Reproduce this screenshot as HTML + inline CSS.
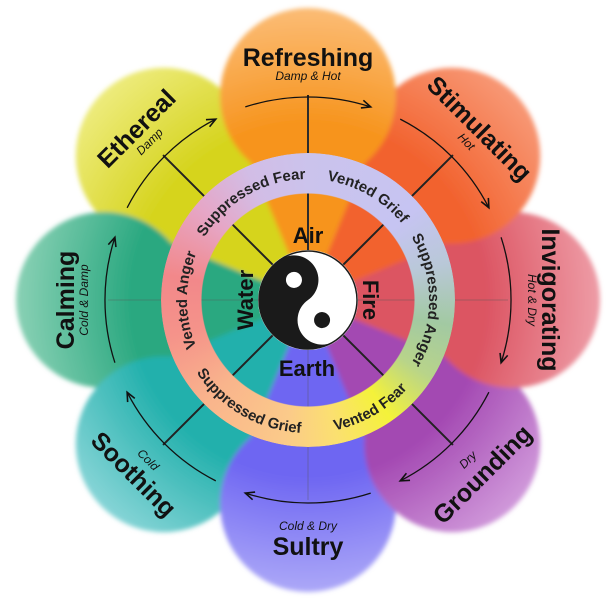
<!DOCTYPE html>
<html><head><meta charset="utf-8"><style>
html,body{margin:0;padding:0;background:#fff;}
#w{position:relative;width:616px;height:600px;overflow:hidden;background:#fff;}
svg{position:absolute;left:0;top:0;}
#ring{position:absolute;left:161px;top:153px;width:294px;height:294px;border-radius:50%;
background:conic-gradient(from 0deg,#cbc3ec 0deg,#c6c4f2 50deg,#b9c8d8 75deg,#a2c9a2 100deg,#b8d48a 122deg,#f4f23a 145deg,#fbe070 168deg,#fbca8a 190deg,#f9b48c 225deg,#f5938a 255deg,#f2888a 280deg,#e6a6c6 310deg,#d2bde6 335deg,#cbc3ec 360deg);
-webkit-mask:radial-gradient(circle,transparent 106px,#000 107px);mask:radial-gradient(circle,transparent 106px,#000 107px);}
.n{font-family:"Liberation Sans Narrow","Liberation Sans",sans-serif;font-weight:bold;font-size:25px;fill:#111;text-anchor:middle;}
.s{font-family:"Liberation Sans Narrow","Liberation Sans",sans-serif;font-style:italic;font-size:12px;fill:#111;text-anchor:middle;}
.r{font-family:"Liberation Sans Narrow","Liberation Sans",sans-serif;font-weight:bold;font-size:15px;fill:#222;}
.e{font-family:"Liberation Sans Narrow","Liberation Sans",sans-serif;font-weight:bold;font-size:22px;fill:#111;text-anchor:middle;}
</style></head><body><div id="w">
<svg width="616" height="600" viewBox="0 0 616 600">
<defs>
<filter id="bl" x="-20%" y="-20%" width="140%" height="140%"><feGaussianBlur stdDeviation="2.5"/></filter>
<radialGradient id="g0" gradientUnits="userSpaceOnUse" cx="308" cy="300" r="295"><stop offset="0.6" stop-color="#f7941d"/><stop offset="1" stop-color="#fbbd78"/></radialGradient>
<radialGradient id="g1" gradientUnits="userSpaceOnUse" cx="308" cy="300" r="295"><stop offset="0.6" stop-color="#f2622e"/><stop offset="1" stop-color="#f89a78"/></radialGradient>
<radialGradient id="g2" gradientUnits="userSpaceOnUse" cx="308" cy="300" r="295"><stop offset="0.6" stop-color="#dc5462"/><stop offset="1" stop-color="#ee9ea8"/></radialGradient>
<radialGradient id="g3" gradientUnits="userSpaceOnUse" cx="308" cy="300" r="295"><stop offset="0.6" stop-color="#a348b2"/><stop offset="1" stop-color="#d29cdc"/></radialGradient>
<radialGradient id="g4" gradientUnits="userSpaceOnUse" cx="308" cy="300" r="295"><stop offset="0.6" stop-color="#6e66f2"/><stop offset="1" stop-color="#aeaaf8"/></radialGradient>
<radialGradient id="g5" gradientUnits="userSpaceOnUse" cx="308" cy="300" r="295"><stop offset="0.6" stop-color="#22b0ac"/><stop offset="1" stop-color="#8ad6d8"/></radialGradient>
<radialGradient id="g6" gradientUnits="userSpaceOnUse" cx="308" cy="300" r="295"><stop offset="0.6" stop-color="#2aa880"/><stop offset="1" stop-color="#8cd2b6"/></radialGradient>
<radialGradient id="g7" gradientUnits="userSpaceOnUse" cx="308" cy="300" r="295"><stop offset="0.6" stop-color="#d6d41e"/><stop offset="1" stop-color="#eeec80"/></radialGradient>
<g id="pet"><polygon points="308,300 224,98 392,98"/><circle cx="308" cy="96" r="88"/></g>
<marker id="ar" markerUnits="userSpaceOnUse" markerWidth="14" markerHeight="14" refX="10" refY="5" orient="auto"><path d="M1,1 L10,5 L1,9" fill="none" stroke="#111" stroke-width="1.6"/></marker>
<path id="arc" d="M245.3,106.9 A203 203 0 0 1 370.7,106.9" fill="none" stroke="#111" stroke-width="1.3" marker-end="url(#ar)"/>
<path id="cw" d="M308,421 A121 121 0 1 1 308,179 A121 121 0 1 1 308,421"/>
<path id="ccw" d="M308,167 A133 133 0 1 0 308,433 A133 133 0 1 0 308,167"/>
</defs>
<g filter="url(#bl)">
<use href="#pet" fill="url(#g7)" transform="rotate(-45 308 300)"/>
<use href="#pet" fill="url(#g6)" transform="rotate(-90 308 300)"/>
<use href="#pet" fill="url(#g5)" transform="rotate(-135 308 300)"/>
<use href="#pet" fill="url(#g4)" transform="rotate(180 308 300)"/>
<use href="#pet" fill="url(#g3)" transform="rotate(135 308 300)"/>
<use href="#pet" fill="url(#g2)" transform="rotate(90 308 300)"/>
<use href="#pet" fill="url(#g1)" transform="rotate(45 308 300)"/>
<use href="#pet" fill="url(#g0)"/>
</g>
<g stroke="#222" stroke-width="2">
<g id="dl"><line x1="308" y1="251" x2="308" y2="193"/><line x1="308" y1="153" x2="308" y2="95"/></g>
</g>
<g stroke="#222" stroke-width="2">
<use href="#dl" transform="rotate(-45 308 300)"/><use href="#dl" transform="rotate(45 308 300)"/><use href="#dl" transform="rotate(135 308 300)"/><use href="#dl" transform="rotate(-135 308 300)"/>
</g>
<g stroke="#555" stroke-opacity="0.4" stroke-width="1">
<line x1="308" y1="251" x2="308" y2="193"/><line x1="308" y1="153" x2="308" y2="100"/>
<line x1="308" y1="349" x2="308" y2="407"/><line x1="308" y1="447" x2="308" y2="500"/>
<line x1="259" y1="300" x2="201" y2="300"/><line x1="161" y1="300" x2="108" y2="300"/>
<line x1="357" y1="300" x2="415" y2="300"/><line x1="455" y1="300" x2="508" y2="300"/>
</g>
<use href="#arc"/>
<use href="#arc" transform="rotate(45 308 300)"/><use href="#arc" transform="rotate(90 308 300)"/><use href="#arc" transform="rotate(135 308 300)"/><use href="#arc" transform="rotate(180 308 300)"/><use href="#arc" transform="rotate(225 308 300)"/><use href="#arc" transform="rotate(270 308 300)"/><use href="#arc" transform="rotate(315 308 300)"/>
<g><text class="n" x="308" y="66">Refreshing</text><text class="s" x="308" y="80">Damp &amp; Hot</text></g>
<g transform="rotate(45 308 300)"><text class="n" x="308" y="66">Stimulating</text><text class="s" x="308" y="80">Hot</text></g>
<g transform="rotate(90 308 300)"><text class="n" x="308" y="66">Invigorating</text><text class="s" x="308" y="80">Hot &amp; Dry</text></g>
<g transform="rotate(-90 308 300)"><text class="n" x="308" y="66">Calming</text><text class="s" x="308" y="80">Cold &amp; Damp</text></g>
<g transform="rotate(-45 308 300)"><text class="n" x="308" y="66">Ethereal</text><text class="s" x="308" y="80">Damp</text></g>
<g><text class="n" x="308" y="555">Sultry</text><text class="s" x="308" y="530">Cold &amp; Dry</text></g>
<g transform="rotate(-45 308 300)"><text class="n" x="308" y="555">Grounding</text><text class="s" x="308" y="530">Dry</text></g>
<g transform="rotate(45 308 300)"><text class="n" x="308" y="555">Soothing</text><text class="s" x="308" y="530">Cold</text></g>
<g transform="rotate(-35 308 300)">
<circle cx="308" cy="300" r="50" fill="#fff"/>
<path d="M308,251 A49 49 0 0 0 308,349 A24.5 24.5 0 0 1 308,300 A24.5 24.5 0 0 0 308,251 Z" fill="#1a1a1a"/>
<circle cx="308" cy="275.5" r="8" fill="#fff"/><circle cx="308" cy="324.5" r="8" fill="#1a1a1a"/>
<circle cx="308" cy="300" r="49" fill="none" stroke="#1a1a1a" stroke-width="1.5"/>
</g>
<text class="e" x="308" y="243">Air</text>
<text class="e" x="307" y="376">Earth</text>
<text class="e" transform="rotate(90 371 300)" x="371" y="308">Fire</text>
<text class="e" transform="rotate(-90 245 300)" x="245" y="308">Water</text>
</svg>
<div id="ring"></div>
<svg width="616" height="600" viewBox="0 0 616 600">
<text class="r" text-anchor="middle"><textPath href="#cw" startOffset="25%">Vented Anger</textPath></text>
<text class="r" text-anchor="middle"><textPath href="#cw" startOffset="41.67%">Suppressed Fear</textPath></text>
<text class="r" text-anchor="middle"><textPath href="#cw" startOffset="58.33%">Vented Grief</textPath></text>
<text class="r" text-anchor="middle"><textPath href="#cw" startOffset="75%">Suppressed Anger</textPath></text>
<text class="r" text-anchor="middle"><textPath href="#ccw" startOffset="41.67%">Suppressed Grief</textPath></text>
<text class="r" text-anchor="middle"><textPath href="#ccw" startOffset="58.33%">Vented Fear</textPath></text>
</svg>
</div></body></html>
